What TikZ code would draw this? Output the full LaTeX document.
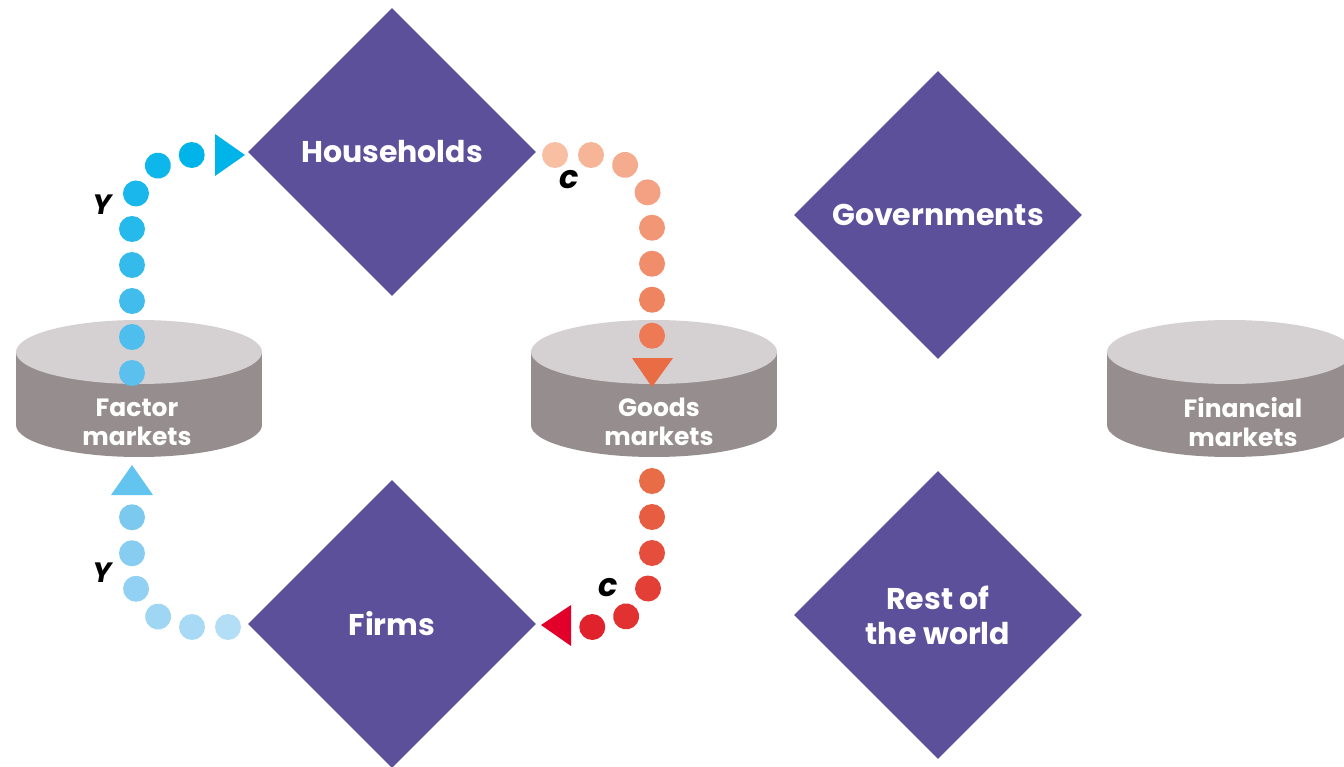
\documentclass[tikz,border=0pt]{standalone}
\usepackage{fontspec}
\setmainfont{Poppins}
\usetikzlibrary{shapes.geometric, decorations.markings}

\definecolor{sectorpurple}{RGB}{92,80,155}
\definecolor{disctop}{RGB}{213,208,210}
\definecolor{discside}{RGB}{150,141,142}
\definecolor{incomeA}{RGB}{91,192,238}
\definecolor{incomeB}{RGB}{0,180,234}
\definecolor{incomeC}{RGB}{180,222,246}
\definecolor{incomeD}{RGB}{124,201,240}
\definecolor{incomeTip}{RGB}{98,196,239}
\definecolor{spendA}{RGB}{248,191,163}
\definecolor{spendB}{RGB}{237,122,85}
\definecolor{spendC}{RGB}{232,108,70}
\definecolor{spendD}{RGB}{224,34,44}
\definecolor{spendTip}{RGB}{233,108,69}
\definecolor{spendRed}{RGB}{226,0,42}

\tikzstyle{sector} = [diamond, minimum width=288pt, minimum height=288pt, inner sep=0pt, fill=sectorpurple, text=white, align=center, font=\fontsize{30}{35}\selectfont\bfseries]
\tikzstyle{market} = [text=white, align=center, font=\fontsize{25}{29}\selectfont\bfseries]
\tikzstyle{flowlabel} = [text=black, font=\bfseries\itshape]
\tikzset{dotchain/.style n args={3}{decoration={markings, mark=between positions 0 and 1 step 36pt with {\pgfmathtruncatemacro\dotpct{100-100*(\pgfkeysvalueof{/pgf/decoration/mark info/sequence number}-1)/#3}\fill[#1!\dotpct!#2] (0,0) circle (13pt);}}, postaction=decorate}}

\newcommand{\marketdisc}[1]{%
  \fill[discside] (#1-123,352) rectangle (#1+123,425);
  \fill[discside] (#1,425) ellipse [x radius=123, y radius=32];
  \fill[disctop] (#1,352) ellipse [x radius=123, y radius=32];
}

\begin{document}
\begin{tikzpicture}[x=1pt, y=-1pt]
\useasboundingbox (0,0) rectangle (1344,767);

% sectors
\node (hh) [sector] at (392,152) {Households};
\node (firms) [sector] at (392,624) {Firms};
\node (gov) [sector] at (938,215) {Governments};
\node (row) [sector] at (938,615) {Rest of\\the world};

% markets
\marketdisc{139}
\marketdisc{654}
\marketdisc{1230}
\node (fm) [market] at (137,422) {Factor\\markets};
\node (gm) [market] at (659,422) {Goods\\markets};
\node (finm) [market] at (1243,422) {Financial\\markets};

% flow ends
\coordinate (ytopstart) at (132,373);
\coordinate (ytopend) at (194,155);
\coordinate (ylowstart) at (228,627);
\coordinate (ylowend) at (132,514);
\coordinate (ctopstart) at (555,155);
\coordinate (ctopend) at (652,342);
\coordinate (clowstart) at (652,481);
\coordinate (clowend) at (588,627);

% income flows
\path[dotchain={incomeA}{incomeB}{7}, rounded corners=60pt] (ytopstart) |- (ytopend);
\fill[incomeB] (245,155) -- (215,134) -- (215,176) -- cycle;
\path[dotchain={incomeC}{incomeD}{5}, rounded corners=60pt] (ylowstart) -| (ylowend);
\fill[incomeTip] (132,465) -- (111,495) -- (153,495) -- cycle;

% spending flows
\path[dotchain={spendA}{spendB}{7}, rounded corners=60pt] (ctopstart) -| (ctopend);
\fill[spendTip] (652,387) -- (632,358) -- (673,358) -- cycle;
\path[dotchain={spendC}{spendD}{5}, rounded corners=60pt] (clowstart) |- (clowend);
\fill[spendRed] (541,625) -- (571,605) -- (571,646) -- cycle;

% labels
\node (ytop) [flowlabel, font=\fontsize{28}{28}\selectfont\bfseries\itshape] at (102,205) {Y};
\node (ylow) [flowlabel, font=\fontsize{28}{28}\selectfont\bfseries\itshape] at (102,573) {Y};
\node (ctop) [flowlabel, font=\fontsize{32}{32}\selectfont\bfseries\itshape] at (569,180) {c};
\node (clow) [flowlabel, font=\fontsize{32}{32}\selectfont\bfseries\itshape] at (608,588) {c};
\end{tikzpicture}
\end{document}
